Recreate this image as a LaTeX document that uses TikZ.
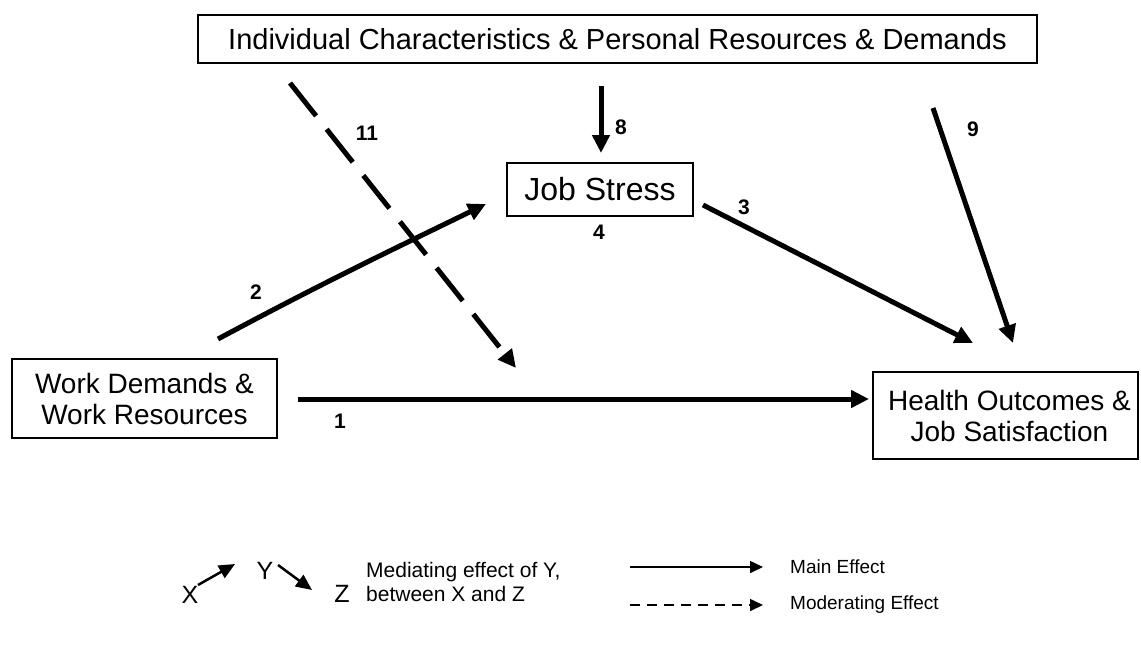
\documentclass[tikz,border=0pt]{standalone}
\usepackage{fontspec}
\setmainfont{Liberation Sans}
\usetikzlibrary{arrows.meta}

\begin{document}
\begin{tikzpicture}[x=1pt,y=-1pt,
  box/.style={draw, line width=1.3pt, inner sep=0pt, align=center,
              font=\fontsize{28}{31}\selectfont},
  eff/.style={line width=5pt, -{Triangle[length=18pt,width=17pt]}},
  mod/.style={eff, dash pattern=on 42pt off 17pt},
  num/.style={font=\bfseries\fontsize{21}{21}\selectfont, inner sep=0pt},
  lgtext/.style={inner sep=0pt, align=left, font=\fontsize{21}{24}\selectfont},
  lgletter/.style={inner sep=0pt, font=\fontsize{25}{25}\selectfont},
  lgarrow/.style={line width=2.5pt, -{Triangle[length=16pt,width=14pt]}},
  keyline/.style={line width=1.6pt, -{Triangle[length=13pt,width=12pt]}},
]
\useasboundingbox (0,0) rectangle (1141,659);

% boxes
\node[box, minimum width=839pt, minimum height=48pt,
      font=\fontsize{29}{31}\selectfont] (ind) at (617.5,39)
  {Individual Characteristics \& Personal Resources \& Demands};
\node[box, minimum width=186pt, minimum height=53pt,
      font=\fontsize{32}{34}\selectfont] (js) at (600,189.5) {Job Stress};
\node[box, minimum width=265pt, minimum height=79pt] (wd) at (144.5,398.5)
  {Work Demands \&\\Work Resources};
\node[box, minimum width=265pt, minimum height=87pt] (ho) at (1005.5,415.5)
  {\hspace*{8pt}Health Outcomes \&\\\hspace*{8pt}Job Satisfaction};

% end points of the paths
\coordinate (p1s) at (298,399);  \coordinate (p1e) at (869,399);
\coordinate (p2s) at (218,339);  \coordinate (p2e) at (486,204);
\coordinate (p3s) at (703,205);  \coordinate (p3e) at (973,343);
\coordinate (p8s) at (601,86);   \coordinate (p8e) at (601,153);
\coordinate (p9s) at (933,108);  \coordinate (p9e) at (1013,343);
\coordinate (p11s) at (290,83);  \coordinate (p11e) at (516,368);

% effects
\draw[eff] (p1s) -- (p1e);
\draw[eff] (p2s) .. controls (330,279) and (400,246) .. (p2e);
\draw[eff] (p3s) -- (p3e);
\draw[eff] (p8s) -- (p8e);
\draw[eff] (p9s) -- (p9e);
\draw[mod] (p11s) -- (p11e);

% path numbers
\node[num] (n1) at (340,421) {1};
\node[num] (n2) at (256,292) {2};
\node[num] (n3) at (744,207) {3};
\node[num] (n4) at (599,232) {4};
\node[num] (n8) at (621,127) {8};
\node[num] (n9) at (973,129) {9};
\node[num] (n11) at (367,133) {11};

% key: mediation
\node[lgletter] (kx) at (190,595) {X};
\node[lgletter] (ky) at (265,571) {Y};
\node[lgletter] (kz) at (342,594) {Z};
\draw[lgarrow] (198,585) -- (235,564);
\draw[lgarrow] (278,565) -- (312,590);
\node[lgtext, anchor=west] (kmed) at (366,582)
  {Mediating effect of Y,\\between X and Z};

% key: line styles
\coordinate (k1s) at (630,567); \coordinate (k1e) at (763,567);
\coordinate (k2s) at (630,605); \coordinate (k2e) at (763,605);
\draw[keyline] (k1s) -- (k1e);
\draw[keyline, dash pattern=on 10pt off 7pt] (k2s) -- (k2e);
\node[lgtext, anchor=west, font=\fontsize{19}{22}\selectfont] (kmain) at (790,567) {Main Effect};
\node[lgtext, anchor=west, font=\fontsize{19}{22}\selectfont] (kmod) at (790,605) {Moderating Effect};
\end{tikzpicture}
\end{document}
